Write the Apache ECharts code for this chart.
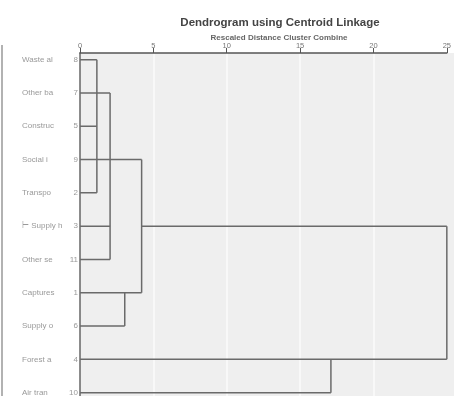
<!DOCTYPE html>
<html><head><meta charset="utf-8">
<script src="https://cdn.jsdelivr.net/npm/echarts@6/dist/echarts.min.js"></script>
<style>html,body{margin:0;padding:0;background:#fff}#c{width:454px;height:396px}</style>
</head><body><div id="c"></div>
<script>
// Leaves (top to bottom) and their case numbers
const leafNames = ["Waste al","Other ba","Construc","Social i","Transpo","Supply h","Other se","Captures","Supply o","Forest a","Air tran"];
const caseNumbers = [8,7,5,9,2,3,11,1,6,4,10];
const xTicks = [0,5,10,15,20,25];
// Horizontal branches: [leafRow, fromDistance, toDistance]
const hBranches = [[0,0,1.15],[2,0,1.15],[4,0,1.15],[3,0,4.2],[1,0,2.05],[5,0,2.05],[5,4.2,25],[6,0,2.05],[7,0,4.2],[8,0,3.05],[9,0,25],[10,0,17.1]];
// Vertical joins: [distance, fromRow, toRow]
const vJoins = [[1.15,0,4],[2.05,1,6],[4.2,3,7],[3.05,7,8],[25,5,9],[17.1,9,10]];

const lineStyle = {color:'#6a6a6a', width:1.5};
const series = [];
hBranches.forEach(b => series.push({type:'line', symbol:'none', silent:true, lineStyle, data:[[b[1],b[0]],[b[2],b[0]]], z:3}));
vJoins.forEach(v => series.push({type:'line', symbol:'none', silent:true, lineStyle, data:[[v[0],v[1]],[v[0],v[2]]], z:3}));
series.push({
  type:'scatter', symbolSize:0, silent:true,
  data: leafNames.map((n,i)=>[0,i]),
  label:{show:true, position:'left', distance:2,
    formatter:p => '{n|' + (p.dataIndex===5?'\u22a2 ':'') + leafNames[p.dataIndex] + '}{c|' + caseNumbers[p.dataIndex] + '}',
    rich:{ n:{width:48, align:'left', fontSize:8, color:'#808080', fontFamily:'Liberation Sans'},
           c:{width:8, align:'right', fontSize:8, color:'#808080', fontFamily:'Liberation Sans'} }
  }
});

const chart = echarts.init(document.getElementById('c'));
chart.setOption({
  animation:false,
  title:[
    {text:'Dendrogram using Centroid Linkage', left:275, top:12, textAlign:'center',
     textStyle:{fontSize:11.5, fontWeight:'bold', color:'#444', fontFamily:'Liberation Sans'}},
    {text:'Rescaled Distance Cluster Combine', left:274, top:29, textAlign:'center',
     textStyle:{fontSize:8, fontWeight:'bold', color:'#666', fontFamily:'Liberation Sans'}}
  ],
  grid:{left:80, right:6, top:53, bottom:0, show:false},
  xAxis:{type:'value', position:'top', min:0, max:25, interval:5,
    axisLine:{show:true, onZero:false, lineStyle:{color:'#555', width:1.5}},
    axisTick:{show:true, length:5, lineStyle:{color:'#555'}},
    axisLabel:{fontSize:7.5, color:'#777', margin:3, fontFamily:'Liberation Sans',
      formatter:v => xTicks.indexOf(v)>=0 ? String(v) : ''},
    splitLine:{show:true, showMaxLine:false, showMinLine:false, lineStyle:{color:'#f8f8f8', width:2}}
  },
  yAxis:{type:'value', inverse:true, min:-0.2, max:10.1,
    axisLine:{show:true, onZero:false, lineStyle:{color:'#666', width:1.5}},
    axisTick:{show:false}, axisLabel:{show:false}, splitLine:{show:false}
  },
  graphic:[
    {type:'rect', z:-10, silent:true, shape:{x:80, y:53, width:374, height:343}, style:{fill:'#efefef'}},
    {type:'line', shape:{x1:2, y1:45, x2:2, y2:396}, style:{stroke:'#999', lineWidth:1.5}}
  ],
  series
});
</script></body></html>
